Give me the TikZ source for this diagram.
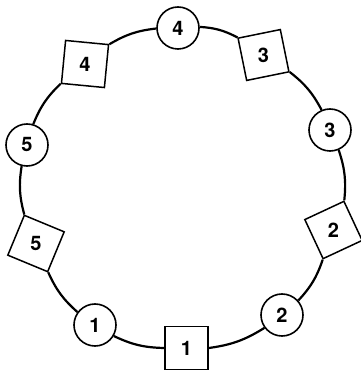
\documentclass[tikz,border=0pt]{standalone}
\usepackage{fontspec}
\setmainfont{TeX Gyre Heros}
\usetikzlibrary{shapes.geometric}
\begin{document}
\begin{tikzpicture}[x=1pt,y=1pt,
  ring/.style={line width=2.2pt},
  lbl/.style={font=\fontsize{20}{20}\selectfont\bfseries},
  cnode/.style={circle,draw,line width=1.6pt,fill=white,minimum size=42pt,inner sep=0pt,lbl},
  snode/.style={regular polygon,regular polygon sides=4,draw,line width=1.5pt,fill=white,minimum size=61pt,inner sep=0pt,lbl}]
\useasboundingbox (0,0) rectangle (361,370);
\node[cnode] (c4) at (178,342) {4};
\node[snode,shape border rotate=11.5] (s3) at (263.5,315) {3};
\node[cnode] (c3) at (330,240) {3};
\node[snode,shape border rotate=25] (s2) at (333.5,140) {2};
\node[cnode] (c2) at (282,55) {2};
\node[snode] (s1) at (186.5,22) {1};
\node[cnode] (c1) at (95,45) {1};
\node[snode,shape border rotate=-22.5] (s5) at (36,126.5) {5};
\node[cnode] (c5) at (27,225) {5};
\node[snode,shape border rotate=-5.5] (s4) at (85,306) {4};
\draw[ring] (c4) to[bend left=12] (s3.146.5);
\draw[ring] (s3.-33.5) to[bend left=12] (c3);
\draw[ring] (c3) to[bend left=12] (s2.70);
\draw[ring] (s2.250) to[bend left=12] (c2);
\draw[ring] (c2) to[bend left=12] (s1.east);
\draw[ring] (s1.west) to[bend left=12] (c1);
\draw[ring] (c1) to[bend left=12] (s5.-67.5);
\draw[ring] (s5.112.5) to[bend left=12] (c5);
\draw[ring] (c5) to[bend left=12] (s4.219.5);
\draw[ring] (s4.39.5) to[bend left=12] (c4);
\end{tikzpicture}
\end{document}
